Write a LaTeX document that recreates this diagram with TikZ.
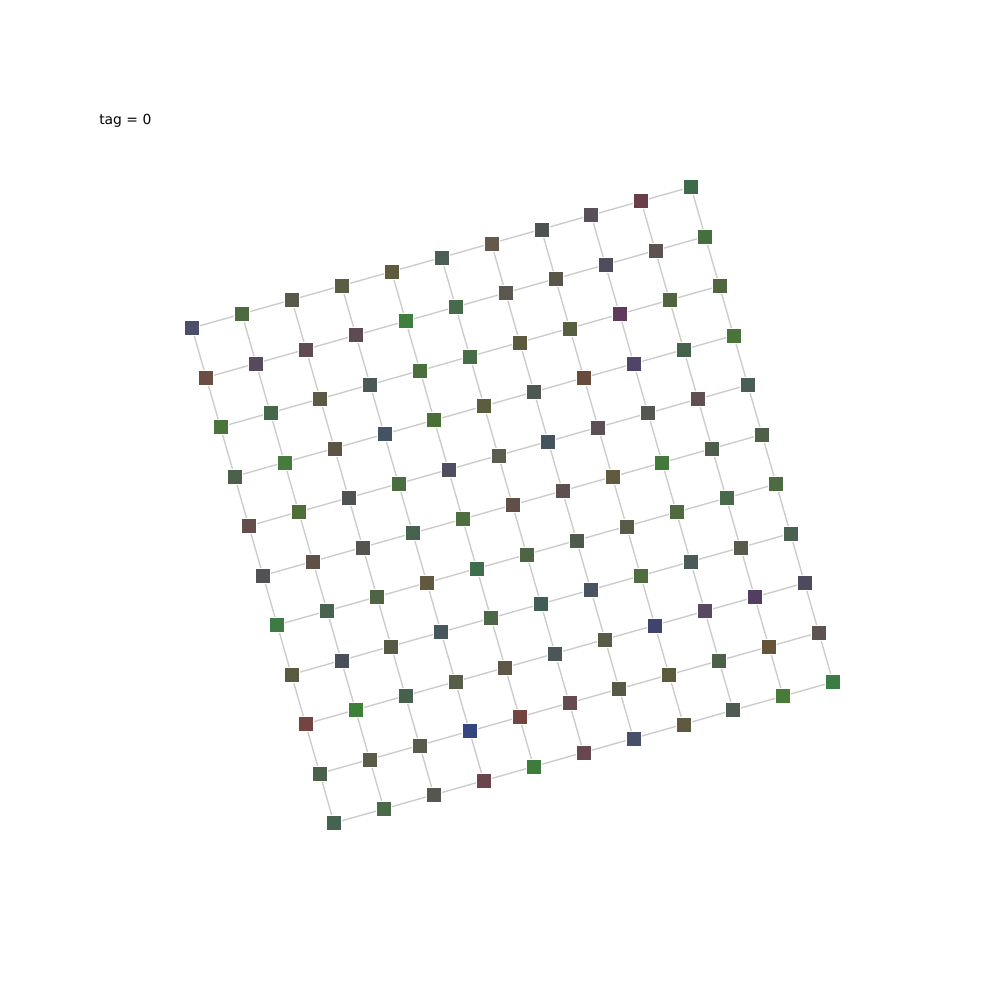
\documentclass[tikz,border=0pt]{standalone}
\usepackage{fontspec}
\setmainfont{DejaVu Sans}
\usetikzlibrary{backgrounds}
\definecolor{clink}{gray}{0.80}

\begin{document}
\begin{tikzpicture}[
    x=0.72pt, y=-0.72pt,
    tile/.style={draw=white, line width=0.4pt, minimum size=10.8pt, inner sep=0pt},
    link/.style={draw=clink, line width=1pt},
    tag/.style={font=\fontsize{10}{12}\selectfont, inner sep=0pt, anchor=base west}
]
\useasboundingbox (0,0) rectangle (1000,1000);
\def\ox{192}  \def\oy{328}
\def\ux{49.9} \def\uy{-14.1}
\def\vx{14.2} \def\vy{49.5}

%% Tiles on a tilted 11 x 11 grid, row by row from the top
\foreach \r/\shades in {
  0/{4a5068,4e6a40,5a5848,5a5c44,5e5a3c,4a5e56,66584a,4e5250,5a5058,6a3e48,3e6a4a},
  1/{6a4e44,584a5e,5e4c52,5e4a52,3e7e3e,466a4a,5a5650,585648,4e4c5a,5c5252,44703e},
  2/{4a743c,46684a,5c5a42,4a5858,4a6e3c,466c48,5c5a3c,566040,603a5c,506440,506640},
  3/{4a6048,467a3e,5e5446,425464,4a7038,5c5c3e,4e5850,6a4a3a,504468,46624a,4a743a},
  4/{644e4c,4e7038,4e5252,4a6e40,4e4e5e,5a5c4e,44545e,5e4e56,555850,5e5050,4a5c56},
  5/{525256,5e5046,555450,46624e,4e6e40,5e5048,5e5050,625a3e,437a3a,4e5e4c,4e6048},
  6/{3e7a44,46644e,4e6442,625840,3e6e4c,4e6444,4e5a4c,585a46,4e6a3e,486a4a,4e6a40},
  7/{5a5a40,4a4e58,565a44,44585e,4e6648,425c58,485460,4e6e40,4a5a58,555a4c,4a6050},
  8/{744440,3e8038,44624e,565e48,5e5646,4a5658,585c46,40446c,5a4860,523e62,4c4a5c},
  9/{4a604c,5a5c48,585a4a,334680,744440,664a50,565a44,5c5a3c,4e6048,665438,5e5252},
  10/{446450,4a6a48,565650,6a464c,3e7c3c,66484e,46506a,5e5840,4e5a52,487a3a,3a7c44}}
{
  \foreach \hex [count=\c from 0] in \shades {
    \edef\setfill{\noexpand\definecolor{tilefill}{HTML}{\hex}}\setfill
    \node[tile, fill=tilefill] (n-\r-\c)
      at ({\ox+\ux*\c+\vx*\r}, {\oy+\uy*\c+\vy*\r}) {};
  }
}

%% Grid links behind the tiles
\begin{scope}[on background layer]
\foreach \r in {0,...,10} {
  \foreach \c [count=\d] in {0,...,9} {
    \draw[link] (n-\r-\c.center) -- (n-\r-\d.center);
    \draw[link] (n-\c-\r.center) -- (n-\d-\r.center);
  }
}
\end{scope}

\node[tag] (title) at (99,124) {tag = 0};

\end{tikzpicture}
\end{document}
